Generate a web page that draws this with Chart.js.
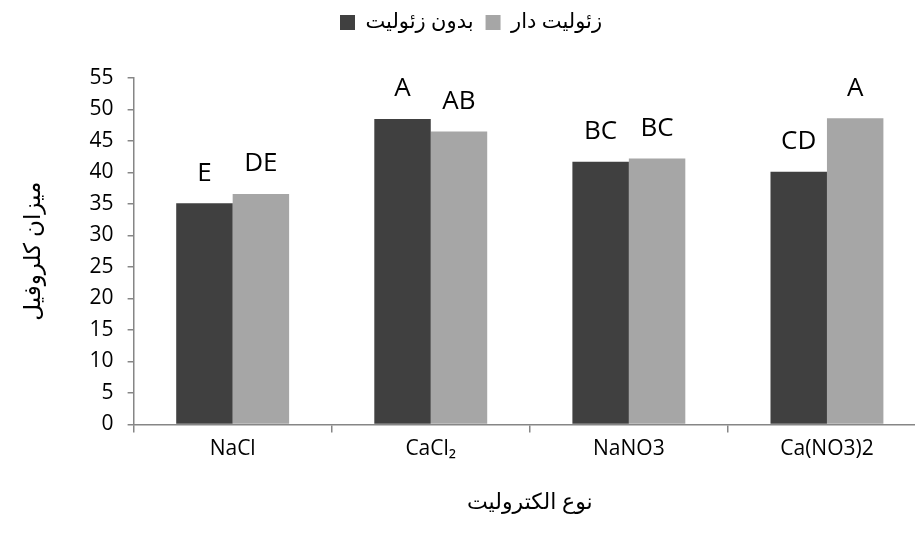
<!DOCTYPE html>
<html>
<head>
<meta charset="utf-8">
<script src="https://cdn.jsdelivr.net/npm/chart.js@4"></script>
<style>
  html, body { margin: 0; padding: 0; background: #fff; overflow: hidden; }
  #wrap { width: 940px; height: 538px; }
</style>
</head>
<body>
<div id="wrap"><canvas id="chart" width="940" height="538"></canvas></div>
<script>
const labels = ['NaCl', 'CaCl\u2082', 'NaNO3', 'Ca(NO3)2'];
const withoutZeolite = [35.1, 48.5, 41.7, 40.1];
const withZeolite = [36.6, 46.5, 42.2, 48.6];
const lettersWithout = ['E', 'A', 'BC', 'CD'];
const lettersWith = ['DE', 'AB', 'BC', 'A'];
const yTicks = { min: 0, max: 55, step: 5 };

const fontFamily = "'Open Sans', 'DejaVu Sans', sans-serif";
const axisColor = '#868686';

const letterPlugin = {
    id: 'letters',
    afterDatasetsDraw(chart) {
        const ctx = chart.ctx;
        const sets = [lettersWithout, lettersWith];
        ctx.save();
        ctx.font = '26px ' + fontFamily;
        ctx.fillStyle = '#000';
        ctx.textAlign = 'center';
        ctx.textBaseline = 'middle';
        sets.forEach((letters, i) => {
            chart.getDatasetMeta(i).data.forEach((bar, j) => {
                ctx.fillText(letters[j], bar.x, bar.y - 30);
            });
        });
        ctx.restore();
    }
};

// extra room under the legend
const legendGap = {
    id: 'legendGap',
    beforeInit(chart) {
        const fit = chart.legend.fit;
        chart.legend.fit = function () {
            fit.bind(chart.legend)();
            this.height += 35;
        };
    }
};

new Chart(document.getElementById('chart').getContext('2d'), {
    type: 'bar',
    data: {
        labels,
        datasets: [
            { label: 'بدون زئولیت', data: withoutZeolite, backgroundColor: '#404040' },
            { label: 'زئولیت دار', data: withZeolite, backgroundColor: '#a6a6a6' }
        ]
    },
    options: {
        responsive: false,
        animation: false,
        devicePixelRatio: 1,
        layout: { padding: { top: 0, right: 14, bottom: 18, left: 16 } },
        datasets: { bar: { barPercentage: 1, categoryPercentage: 0.57 } },
        plugins: {
            legend: {
                position: 'top',
                labels: {
                    color: '#000',
                    font: { family: fontFamily, size: 21 },
                    boxWidth: 15,
                    boxHeight: 15,
                    padding: 12
                }
            },
            tooltip: { enabled: false }
        },
        scales: {
            x: {
                border: { color: axisColor, width: 1.5 },
                grid: { display: true, drawOnChartArea: false, color: axisColor, tickLength: 8, lineWidth: 1.5 },
                ticks: { color: '#000', font: { family: fontFamily, size: 21 }, padding: 4 },
                title: {
                    display: true,
                    text: 'نوع الکترولیت',
                    color: '#000',
                    font: { family: fontFamily, size: 22 },
                    padding: { top: 24 }
                }
            },
            y: {
                min: yTicks.min,
                max: yTicks.max,
                border: { color: axisColor, width: 1.5 },
                grid: { display: true, drawOnChartArea: false, color: axisColor, tickLength: 6, lineWidth: 1.5 },
                ticks: { stepSize: yTicks.step, color: '#000', font: { family: fontFamily, size: 21 }, padding: 14 },
                title: {
                    display: true,
                    text: 'میزان کلروفیل',
                    color: '#000',
                    font: { family: fontFamily, size: 23 },
                    padding: { bottom: 28 }
                }
            }
        }
    },
    plugins: [letterPlugin, legendGap]
});
</script>
</body>
</html>
